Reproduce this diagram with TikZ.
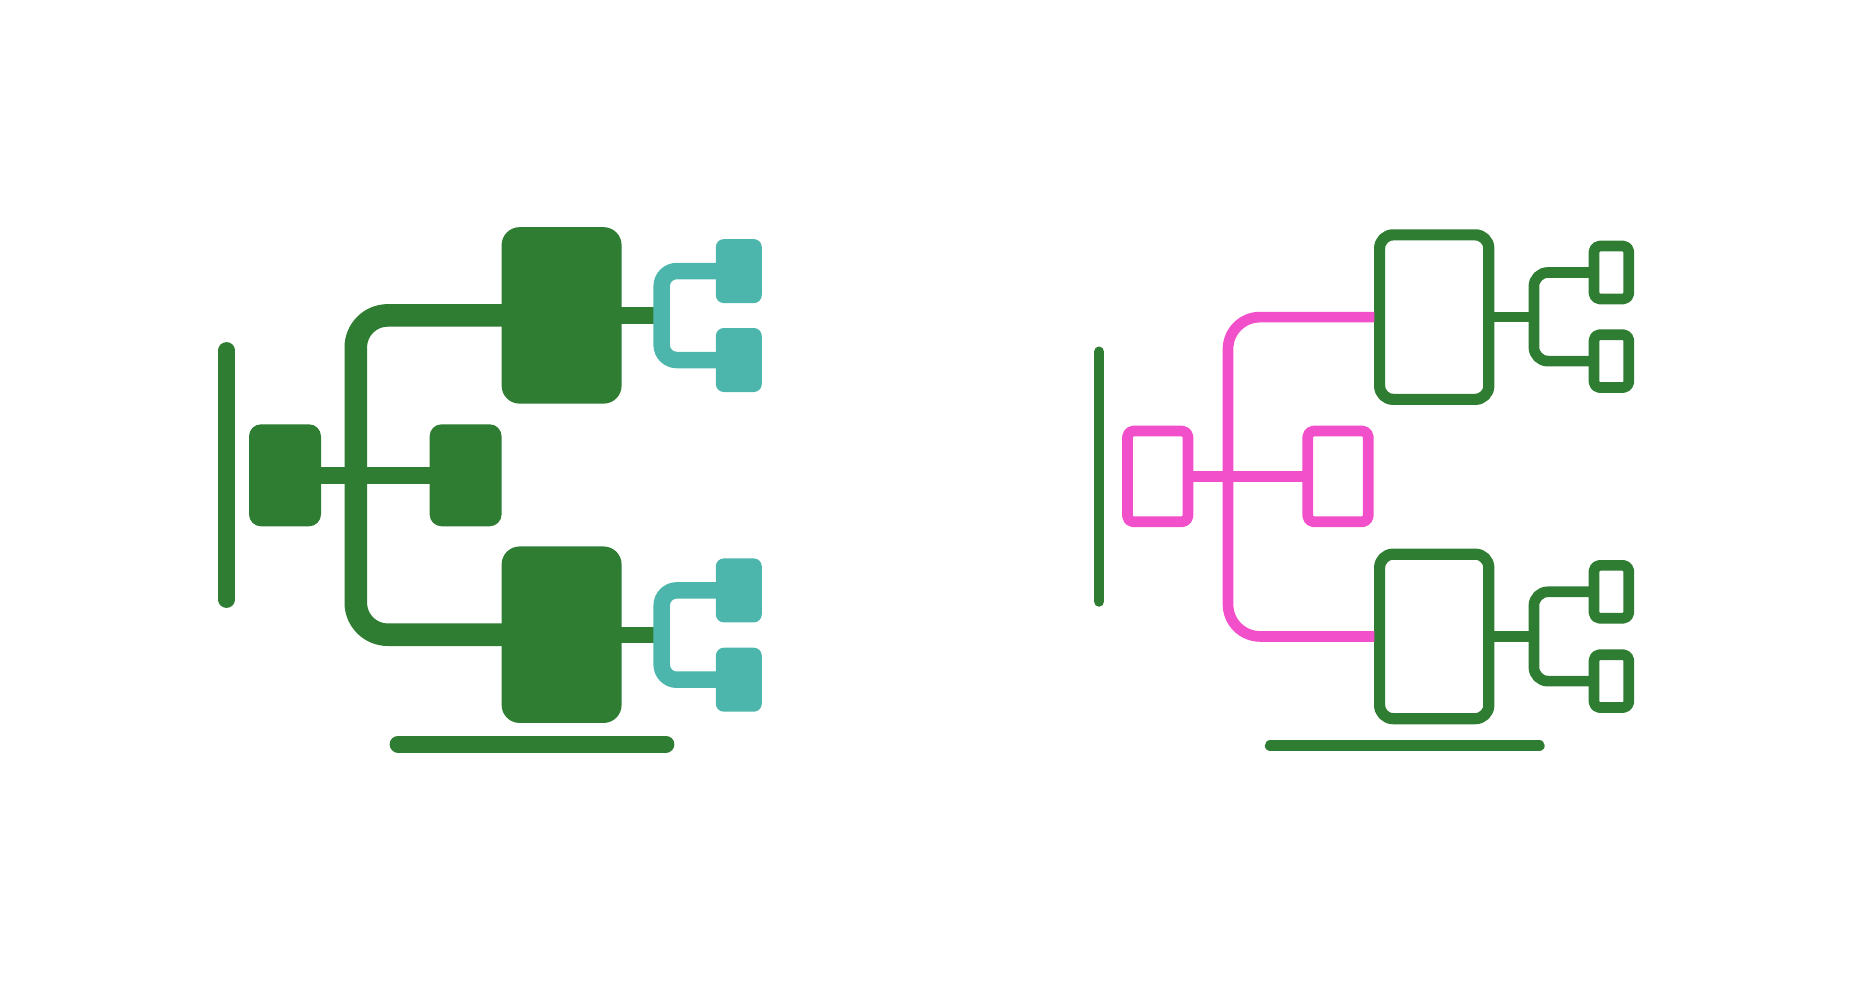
\documentclass[tikz,border=0pt]{standalone}
\usepackage{xcolor}
\definecolor{leaf}{HTML}{2E7D32}
\definecolor{teal2}{HTML}{4DB6AC}
\definecolor{pink2}{HTML}{F24FCA}
\tikzset{
  solid big/.style={fill=leaf, inner sep=0pt, outer sep=-1pt, minimum width=120pt, minimum height=176.5pt, rounded corners=18pt},
  solid mid/.style={fill=leaf, inner sep=0pt, outer sep=-1pt, minimum width=72pt, minimum height=102pt, rounded corners=12pt},
  solid small/.style={fill=teal2, inner sep=0pt, outer sep=-1pt, minimum width=46pt, minimum height=64pt, rounded corners=8pt},
  line big/.style={draw=leaf, line width=11.2pt, line join=round, inner sep=0pt, outer sep=5.2pt, minimum width=109.2pt, minimum height=164.5pt, rounded corners=13.5pt},
  line mid/.style={draw=pink2, line width=10.7pt, line join=round, inner sep=0pt, outer sep=4.5pt, minimum width=60.4pt, minimum height=90.7pt, rounded corners=5.5pt},
  line small/.style={draw=leaf, line width=10.7pt, line join=round, inner sep=0pt, outer sep=4.5pt, minimum width=34.8pt, minimum height=52.9pt, rounded corners=5.5pt},
}
\begin{document}
\begin{tikzpicture}[x=1pt, y=-1pt]
  \useasboundingbox (0,0) rectangle (1854,980);

  % solid icon
  \coordinate (sbarl1) at (226.6,350.3);
  \coordinate (sbarl2) at (226.6,599.7);
  \coordinate (sbarb1) at (398,744.1);
  \coordinate (sbarb2) at (666,744.1);
  \draw[leaf, line width=16.4pt, line cap=round] (sbarl1) -- (sbarl2);
  \draw[leaf, line width=16.8pt, line cap=round] (sbarb1) -- (sbarb2);

  \node[solid big] (stop) at (561.6,315.4) {};
  \node[solid big] (sbot) at (561.6,634.7) {};
  \node[solid mid] (sleft) at (285,475.3) {};
  \node[solid mid] (smid) at (465.6,475.3) {};
  \node[solid small] (sta) at (738.8,271.1) {};
  \node[solid small] (stb) at (738.8,360) {};
  \node[solid small] (sba) at (738.8,590.4) {};
  \node[solid small] (sbb) at (738.8,679.7) {};

  \coordinate (strunk) at (355.8,475.3);
  \coordinate (sfork1) at (661.7,315.4);
  \coordinate (sfork2) at (661.7,634.7);

  \draw[leaf, line width=22.6pt, rounded corners=32pt] (stop.west) -| (strunk) |- (sbot.west);
  \draw[leaf, line width=17.5pt] (sleft.east) -- (smid.west);
  \draw[leaf, line width=16.4pt] (stop.east) -- (sfork1);
  \draw[leaf, line width=16.4pt] (sbot.east) -- (sfork2);
  \draw[teal2, line width=16.5pt, rounded corners=15pt] (sta.west) -| (sfork1) |- (stb.west);
  \draw[teal2, line width=16.5pt, rounded corners=15pt] (sba.west) -| (sfork2) |- (sbb.west);

  % outline icon
  \coordinate (lbarl1) at (1099.1,351.8);
  \coordinate (lbarl2) at (1099.1,601.4);
  \coordinate (lbarb1) at (1270.5,745.7);
  \coordinate (lbarb2) at (1539,745.7);
  \draw[leaf, line width=10.7pt, line cap=round] (lbarl1) -- (lbarl2);
  \draw[leaf, line width=11.4pt, line cap=round] (lbarb1) -- (lbarb2);

  \node[line big] (ltop) at (1434.2,317.1) {};
  \node[line big] (lbot) at (1434.2,636.4) {};
  \node[line mid] (lleft) at (1157.7,476.4) {};
  \node[line mid] (lmid) at (1338,476.4) {};
  \node[line small] (lta) at (1611.4,272.5) {};
  \node[line small] (ltb) at (1611.4,361.1) {};
  \node[line small] (lba) at (1611.4,591.8) {};
  \node[line small] (lbb) at (1611.4,681.1) {};

  \coordinate (ltrunk) at (1228,476.4);
  \coordinate (lfork1) at (1533.9,317.1);
  \coordinate (lfork2) at (1533.9,636.4);

  \draw[pink2, line width=10.7pt, rounded corners=32pt] (ltop.west) -| (ltrunk) |- (lbot.west);
  \draw[pink2, line width=10.7pt] (lleft.east) -- (lmid.west);
  \draw[leaf, line width=10.7pt] (ltop.east) -- (lfork1);
  \draw[leaf, line width=10.7pt] (lbot.east) -- (lfork2);
  \draw[leaf, line width=10.7pt, rounded corners=14pt] (lta.west) -| (lfork1) |- (ltb.west);
  \draw[leaf, line width=10.7pt, rounded corners=14pt] (lba.west) -| (lfork2) |- (lbb.west);
\end{tikzpicture}
\end{document}
